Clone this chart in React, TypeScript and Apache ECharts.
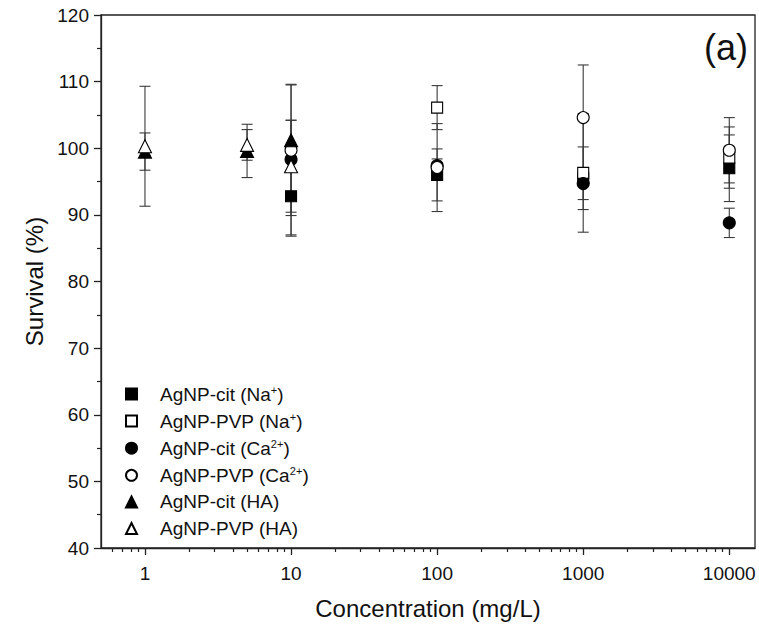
import React, { useEffect, useRef } from "react";
import * as echarts from "echarts";

// ---- data ----
const seriesNames = [
  "AgNP-cit (Na+)",
  "AgNP-PVP (Na+)",
  "AgNP-cit (Ca2+)",
  "AgNP-PVP (Ca2+)",
  "AgNP-cit (HA)",
  "AgNP-PVP (HA)",
];

const citNaX = [10, 100, 1000, 10000];
const citNaY = [92.8, 96.0, 95.5, 97.0];
const citNaErr = [6.0, 3.9, 4.7, 5.0];

const pvpNaX = [100, 1000, 10000];
const pvpNaY = [106.1, 96.3, 98.6];
const pvpNaErr = [3.3, 8.9, 4.6];

const citCaX = [10, 100, 1000, 10000];
const citCaY = [98.3, 97.4, 94.7, 88.8];
const citCaErr = [11.3, 1.0, 2.4, 2.2];

const pvpCaX = [10, 100, 1000, 10000];
const pvpCaY = [99.7, 97.1, 104.6, 99.7];
const pvpCaErr = [9.8, 6.6, 7.9, 4.9];

const citHAX = [1, 5, 10];
const citHAY = [99.5, 99.6, 101.2];
const citHAErr = [2.8, 4.0, 3.0];

const pvpHAX = [1, 5, 10];
const pvpHAY = [100.3, 100.5, 97.3];
const pvpHAErr = [9.0, 2.3, 6.9];

const xMajorTicks = [1, 10, 100, 1000, 10000];
const xMinorTicks = [
  0.6, 0.7, 0.8, 0.9,
  2, 3, 4, 5, 6, 7, 8, 9,
  20, 30, 40, 50, 60, 70, 80, 90,
  200, 300, 400, 500, 600, 700, 800, 900,
  2000, 3000, 4000, 5000, 6000, 7000, 8000, 9000,
];

const FONT = "Liberation Sans, Arial, sans-serif";

type Spec = {
  x: number[];
  y: number[];
  err: number[];
  symbol: string;
  size: number;
  filled: boolean;
};

const specs: Spec[] = [
  { x: citNaX, y: citNaY, err: citNaErr, symbol: "rect", size: 11, filled: true },
  { x: pvpNaX, y: pvpNaY, err: pvpNaErr, symbol: "rect", size: 11, filled: false },
  { x: citCaX, y: citCaY, err: citCaErr, symbol: "circle", size: 12, filled: true },
  { x: pvpCaX, y: pvpCaY, err: pvpCaErr, symbol: "circle", size: 12, filled: false },
  { x: citHAX, y: citHAY, err: citHAErr, symbol: "triangle", size: 13, filled: true },
  { x: pvpHAX, y: pvpHAY, err: pvpHAErr, symbol: "triangle", size: 13, filled: false },
];

const legendLabel: Record<string, string> = {
  "AgNP-cit (Na+)": "{g|}{n|AgNP-cit (Na}{s|+}{n|)}",
  "AgNP-PVP (Na+)": "{g|}{n|AgNP-PVP (Na}{s|+}{n|)}",
  "AgNP-cit (Ca2+)": "{g|}{n|AgNP-cit (Ca}{s|2+}{n|)}",
  "AgNP-PVP (Ca2+)": "{g|}{n|AgNP-PVP (Ca}{s|2+}{n|)}",
  "AgNP-cit (HA)": "{g|}{n|AgNP-cit (HA)}",
  "AgNP-PVP (HA)": "{g|}{n|AgNP-PVP (HA)}",
};

export default function App() {
  const ref = useRef<HTMLDivElement>(null);

  useEffect(() => {
    document.body.style.margin = "0";
    if (!ref.current) return;
    const chart = echarts.init(ref.current, null, { renderer: "svg" });

    const errSeries = specs.map((s, i) => ({
      name: "err" + i,
      type: "custom",
      xAxisIndex: 0,
      yAxisIndex: 0,
      z: 2,
      silent: true,
      encode: { x: 0, y: [1, 2] },
      data: s.x.map((xv, k) => [xv, s.y[k] - s.err[k], s.y[k] + s.err[k]]),
      renderItem: (params: any, api: any) => {
        const xv = api.value(0);
        const lo = api.coord([xv, api.value(1)]);
        const hi = api.coord([xv, api.value(2)]);
        const w = 5.5;
        const st = { stroke: "#3a3a3a", lineWidth: 1.1 };
        return {
          type: "group",
          children: [
            { type: "line", shape: { x1: lo[0], y1: lo[1], x2: hi[0], y2: hi[1] }, style: st },
            { type: "line", shape: { x1: lo[0] - w, y1: lo[1], x2: lo[0] + w, y2: lo[1] }, style: st },
            { type: "line", shape: { x1: hi[0] - w, y1: hi[1], x2: hi[0] + w, y2: hi[1] }, style: st },
          ],
        };
      },
    }));

    const ptSeries = specs.map((s, i) => ({
      name: seriesNames[i],
      type: "scatter",
      xAxisIndex: 0,
      yAxisIndex: 0,
      z: 3,
      symbol: s.symbol,
      symbolSize: s.size,
      itemStyle: {
        color: s.filled ? "#000" : "#fff",
        borderColor: "#000",
        borderWidth: 1.1,
        opacity: 1,
      },
      data: s.x.map((xv, k) => [xv, s.y[k]]),
    }));

    chart.setOption({
      animation: false,
      backgroundColor: "#fff",
      grid: {
        left: 101,
        right: 4,
        top: 15,
        bottom: 87,
        show: true,
        borderColor: "#222",
        borderWidth: 1.3,
      },
      legend: {
        data: seriesNames,
        orient: "vertical",
        left: 120,
        top: 379,
        itemWidth: 11,
        itemHeight: 11,
        itemGap: 7.6,
        selectedMode: false,
        formatter: (name: string) => legendLabel[name] || name,
        textStyle: {
          fontFamily: FONT,
          fontSize: 19,
          color: "#111",
          rich: {
            g: { width: 18, height: 20 },
            n: { fontFamily: FONT, fontSize: 19, color: "#111", lineHeight: 20 },
            s: {
              fontFamily: FONT,
              fontSize: 11,
              color: "#111",
              verticalAlign: "top",
              lineHeight: 20,
              padding: [0, 0, 8, 0],
            },
          },
        },
      },
      xAxis: [
        {
          type: "log",
          min: 0.5,
          max: 15000,
          position: "bottom",
          name: "Concentration (mg/L)",
          nameLocation: "middle",
          nameGap: 48,
          nameTextStyle: { fontFamily: FONT, fontSize: 24, color: "#111" },
          axisLine: { show: true, lineStyle: { color: "#222", width: 1.3 } },
          axisTick: {
            show: true,
            length: 7,
            customValues: xMajorTicks,
            lineStyle: { color: "#222", width: 1.3 },
          },
          axisLabel: {
            customValues: xMajorTicks,
            margin: 16,
            fontFamily: FONT,
            fontSize: 19,
            color: "#111",
            formatter: (v: number) => (v >= 1 ? String(Math.round(v)) : String(v)),
          },
          splitLine: { show: false },
          minorTick: { show: false },
        },
        {
          type: "log",
          min: 0.5,
          max: 15000,
          position: "bottom",
          axisLine: { show: false },
          axisTick: {
            show: true,
            length: 4,
            customValues: xMinorTicks,
            lineStyle: { color: "#222", width: 1.2 },
          },
          axisLabel: { show: false },
          splitLine: { show: false },
        },
      ],
      yAxis: {
        type: "value",
        min: 40,
        max: 120,
        interval: 10,
        name: "Survival (%)",
        nameLocation: "middle",
        nameGap: 52,
        nameTextStyle: { fontFamily: FONT, fontSize: 24, color: "#111" },
        axisLine: { show: true, lineStyle: { color: "#222", width: 1.3 } },
        axisTick: { show: true, length: 7, lineStyle: { color: "#222", width: 1.3 } },
        minorTick: { show: true, splitNumber: 2, length: 4, lineStyle: { color: "#222", width: 1.2 } },
        axisLabel: { margin: 12, fontFamily: FONT, fontSize: 19, color: "#111" },
        splitLine: { show: false },
      },
      graphic: [
        {
          type: "text",
          right: 11,
          top: 29,
          style: { text: "(a)", fontFamily: FONT, fontSize: 36, fill: "#111" },
        },
      ],
      series: [...errSeries, ...ptSeries],
    });

    return () => chart.dispose();
  }, []);

  return <div ref={ref} style={{ width: 759, height: 635 }} />;
}
